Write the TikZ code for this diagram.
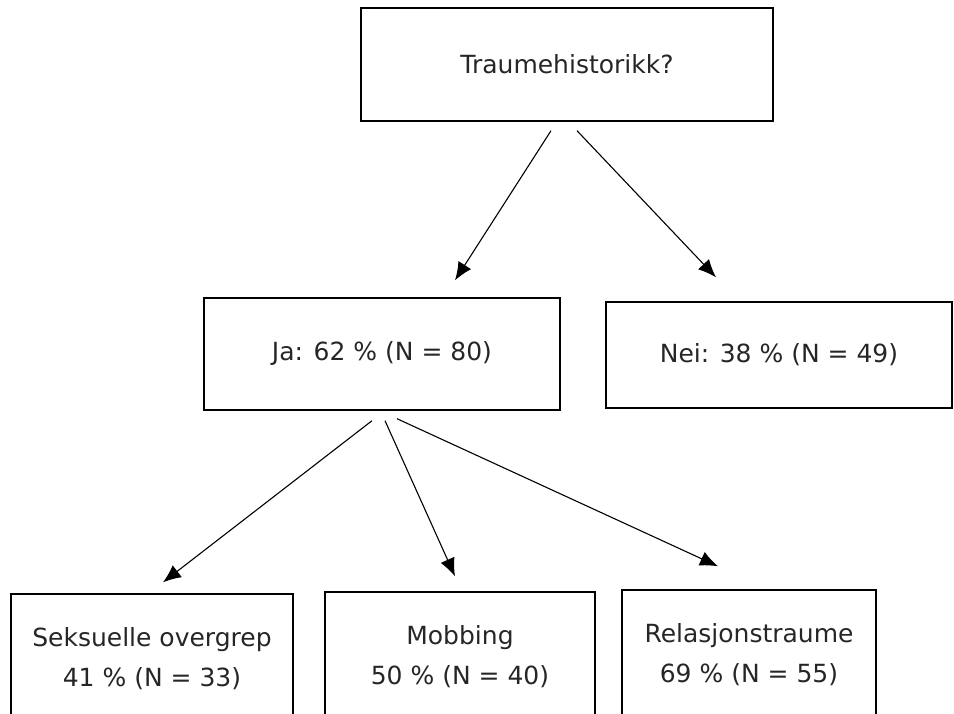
\documentclass[tikz,border=0pt]{standalone}
\usepackage{fontspec}
\setmainfont{DejaVu Sans}
\usetikzlibrary{arrows.meta,calc,positioning}

\begin{document}
\begin{tikzpicture}[x=1pt,y=-1pt,
        box/.style={draw, line width=1.4pt, inner sep=0pt, align=center,
            text=black!85, font=\fontsize{25}{40}\selectfont},
        pil/.style={-{Latex[length=18pt,width=15pt]}, line width=1.1pt}]
        \useasboundingbox (0,0) rectangle (954,713);
        \clip (0,0) rectangle (954,713);

        \node[box, minimum width=412pt, minimum height=113pt] (traume) at (567,64.5) {Traumehistorikk?};
        \node[box, minimum width=356pt, minimum height=112pt] (ja) at (382,354) {Ja: 62 \% (N = 80)};
        \node[box, minimum width=346pt, minimum height=106pt] (nei) at (779,355) {Nei: 38 \% (N = 49)};

        \node[box, minimum width=282pt, minimum height=130pt] (seks) at (152,659) {Seksuelle overgrep\\41 \% (N = 33)};
        \node[box, minimum width=270pt, minimum height=130pt] (mob) at (460,657) {Mobbing\\50 \% (N = 40)};
        \node[box, minimum width=254pt, minimum height=130pt] (rel) at (749,655) {Relasjonstraume\\69 \% (N = 55)};

        \coordinate (t1) at ($(traume.south) + (-16,9)$);
        \coordinate (t2) at ($(traume.south) + (10,9)$);
        \coordinate (j1) at ($(ja.south) + (-10,10)$);
        \coordinate (j2) at ($(ja.south) + (3,10)$);
        \coordinate (j3) at ($(ja.south) + (15,8)$);

        \coordinate (ja-in) at ($(ja.north) + (73,-17)$);
        \coordinate (nei-in) at ($(nei.north) + (-63,-24)$);
        \coordinate (seks-in) at ($(seks.north) + (11,-11)$);
        \coordinate (mob-in) at ($(mob.north) + (-5,-15)$);
        \coordinate (rel-in) at ($(rel.north) + (-31,-23)$);

        \draw [pil] (t1) to (ja-in);
        \draw [pil] (t2) to (nei-in);
        \draw [pil] (j1) to (seks-in);
        \draw [pil] (j2) to (mob-in);
        \draw [pil] (j3) to (rel-in);
    \end{tikzpicture}
\end{document}
